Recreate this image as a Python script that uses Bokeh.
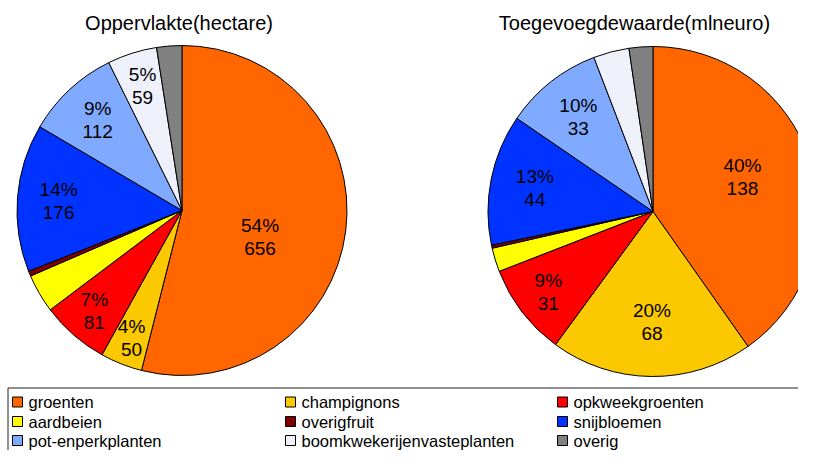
import numpy as np
from bokeh.plotting import figure
from bokeh.models import Range1d, ColumnDataSource
from bokeh.embed import file_html
from bokeh.resources import INLINE
from bokeh.core.properties import value

# ---------------- data ----------------
categories = ["groenten", "champignons", "opkweekgroenten", "aardbeien", "overigfruit",
              "snijbloemen", "pot-enperkplanten", "boomkwekerijenvasteplanten", "overig"]
colors = ["#FF6600", "#FCC800", "#FF0000", "#FFFF00", "#800000",
          "#0033FF", "#80AAFF", "#EEF0FA", "#808080"]
oppervlakte = [656, 50, 81, 46, 6, 176, 112, 59, 30]          # hectare
toegevoegde_waarde = [138, 68, 31, 8, 1, 44, 33, 12, 8]      # mln euro
titles = ["Oppervlakte(hectare)", "Toegevoegdewaarde(mlneuro)"]

# ---------------- layout ----------------
W, H = 798, 450
FONT = value("Liberation Sans")


def sy(v):
    """picture y (pixels from top) -> data y"""
    return H - v


p = figure(width=W, height=H, output_backend="svg", toolbar_location=None,
           x_range=Range1d(0, W), y_range=Range1d(0, H),
           min_border=0, tools="")
p.axis.visible = False
p.grid.visible = False
p.outline_line_color = None
p.background_fill_color = "white"

pies = [
    dict(values=oppervlakte, title=titles[0], cx=181.5, cy=210, r=165, tx=178.5,
         lab_r=[0.50, 0.83, 0.81, 0.8, 0.8, 0.75, 0.75, 0.79, 0.8],
         lab_shift=[0.033, 0, 0, 0, 0, 0, 0, 0, 0]),
    dict(values=toegevoegde_waarde, title=titles[1], cx=652.5, cy=211, r=165, tx=634,
         lab_r=[0.58, 0.67, 0.80, 0.8, 0.8, 0.73, 0.73, 0.8, 0.8],
         lab_shift=[-0.009, 0, 0, 0, 0, 0, 0, 0, 0]),
]

for pie in pies:
    vals = np.array(pie["values"], dtype=float)
    frac = vals / vals.sum()
    cum_end = np.cumsum(frac)
    cum_start = cum_end - frac
    start = np.pi / 2 - 2 * np.pi * cum_start
    end = np.pi / 2 - 2 * np.pi * cum_end
    src = ColumnDataSource(dict(start=start, end=end, color=colors, cat=categories))
    p.wedge(x=pie["cx"], y=sy(pie["cy"]), radius=pie["r"], start_angle="start",
            end_angle="end", direction="clock", fill_color="color",
            line_color="black", line_width=1, source=src)

    # labels (only slices of at least 4%)
    lx, ly, pct_t, val_t = [], [], [], []
    for i, f in enumerate(frac):
        if f < 0.04:
            continue
        mid = (cum_start[i] + cum_end[i]) / 2 + pie["lab_shift"][i]
        a = 2 * np.pi * mid
        rr = pie["r"] * pie["lab_r"][i]
        lx.append(pie["cx"] + rr * np.sin(a))
        ly.append(sy(pie["cy"] - rr * np.cos(a)))
        pct_t.append(f"{int(round(f * 100))}%")
        val_t.append(f"{int(vals[i])}")
    p.text(x=lx, y=ly, text=pct_t, text_align="center", text_baseline="middle",
           y_offset=-11.5, text_font=FONT, text_font_size="19px", text_color="black")
    p.text(x=lx, y=ly, text=val_t, text_align="center", text_baseline="middle",
           y_offset=11.5, text_font=FONT, text_font_size="19px", text_color="black")

    # title
    p.text(x=[pie["tx"]], y=[sy(22.5)], text=[pie["title"]], text_align="center",
           text_baseline="middle", text_font=FONT, text_font_size="20px",
           text_color="black")

# ---------------- legend ----------------
p.quad(left=7.5, right=840, top=sy(387.5), bottom=-20, fill_color=None,
       line_color="#222222", line_width=1)

col_x = [12, 285, 557]
row_y = [401.5, 421, 440]
sw_x, sw_y, tx_x, tx_y = [], [], [], []
for i, c in enumerate(categories):
    r, k = divmod(i, 3)
    sw_x.append(col_x[k] + 5)
    sw_y.append(sy(row_y[r]))
    tx_x.append(col_x[k] + 16)
    tx_y.append(sy(row_y[r]))
p.rect(x=sw_x, y=sw_y, width=10, height=10, fill_color=colors,
       line_color="black", line_width=1)
p.text(x=tx_x, y=tx_y, text=categories, text_align="left", text_baseline="middle",
       text_font=FONT, text_font_size="16.5px", text_color="black")

open("out.html", "w").write(file_html(p, INLINE))
